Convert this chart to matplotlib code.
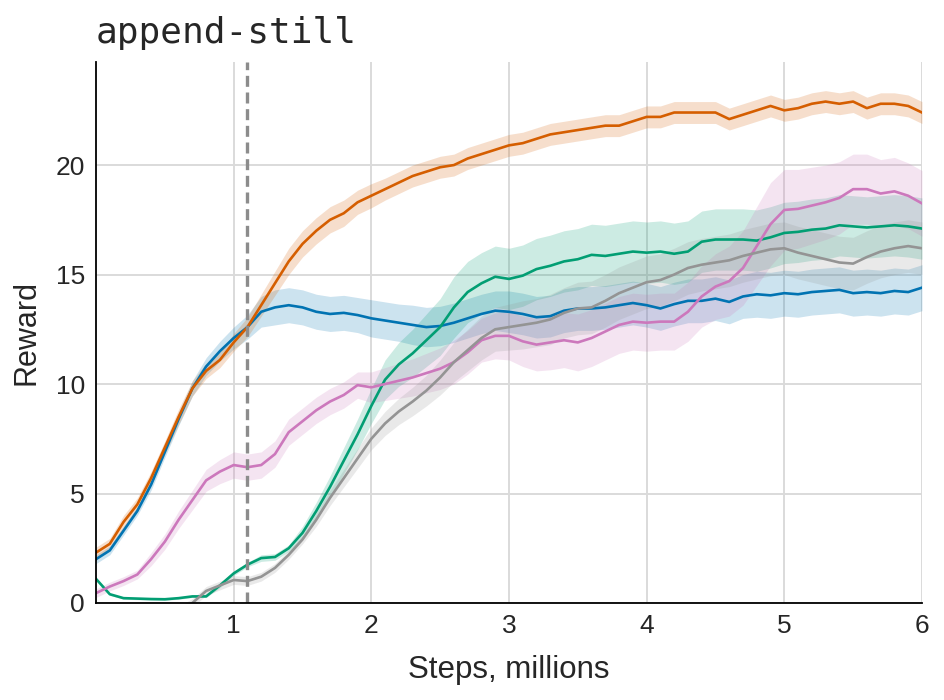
import numpy as np
import matplotlib
matplotlib.use("Agg")
import matplotlib.pyplot as plt

# steps in millions, every 0.1M
steps = np.round(np.arange(0, 61) * 0.1, 1)
grey_steps = steps[6:]

orange = [2.3, 2.7, 3.7, 4.5, 5.7, 7.1, 8.5, 9.8, 10.6, 11.1,
          11.9, 12.6, 13.6, 14.6, 15.6, 16.4, 17.0, 17.5, 17.8, 18.3,
          18.6, 18.9, 19.2, 19.5, 19.7, 19.9, 20.0, 20.3, 20.5, 20.7,
          20.9, 21.0, 21.2, 21.4, 21.5, 21.6, 21.7, 21.8, 21.8, 22.0,
          22.2, 22.2, 22.4, 22.4, 22.4, 22.4, 22.1, 22.3, 22.5, 22.7,
          22.5, 22.6, 22.8, 22.9, 22.8, 22.9, 22.6, 22.8, 22.8, 22.7,
          22.4]
orange_err = [0.25, 0.25, 0.3, 0.3, 0.3, 0.3, 0.35, 0.35, 0.35, 0.35,
              0.4, 0.45, 0.5, 0.55, 0.6, 0.6, 0.6, 0.6, 0.6, 0.55,
              0.55, 0.5, 0.5, 0.5, 0.5, 0.5, 0.5, 0.5, 0.5, 0.5,
              0.5, 0.5, 0.5, 0.5, 0.5, 0.5, 0.5, 0.5, 0.5, 0.5,
              0.5, 0.5, 0.5, 0.5, 0.5, 0.5, 0.5, 0.5, 0.5, 0.5,
              0.5, 0.5, 0.5, 0.5, 0.5, 0.5, 0.5, 0.5, 0.5, 0.5,
              0.5]

blue = [2.0, 2.4, 3.3, 4.2, 5.4, 6.9, 8.4, 9.8, 10.8, 11.5,
        12.1, 12.6, 13.3, 13.5, 13.6, 13.5, 13.3, 13.2, 13.25, 13.15,
        13.0, 12.9, 12.8, 12.7, 12.6, 12.65, 12.8, 13.0, 13.2, 13.35,
        13.3, 13.2, 13.05, 13.1, 13.35, 13.45, 13.45, 13.5, 13.6, 13.7,
        13.6, 13.45, 13.65, 13.8, 13.8, 13.9, 13.75, 14.0, 14.1, 14.05,
        14.15, 14.1, 14.2, 14.25, 14.3, 14.15, 14.2, 14.15, 14.25, 14.2,
        14.4]
blue_err = [0.2, 0.2, 0.2, 0.2, 0.25, 0.25, 0.3, 0.35, 0.4, 0.45,
            0.5, 0.55, 0.7, 0.8, 0.8, 0.8, 0.8, 0.8, 0.8, 0.8,
            0.85, 0.85, 0.85, 0.9, 0.9, 0.9, 0.9, 0.9, 0.9, 0.9,
            0.95, 0.95, 0.95, 0.95, 1.0, 1.0, 1.0, 1.0, 1.0, 1.0,
            1.0, 1.0, 1.0, 1.0, 1.0, 1.0, 1.0, 1.0, 1.05, 1.05,
            1.05, 1.05, 1.05, 1.05, 1.05, 1.05, 1.05, 1.05, 1.05, 1.05,
            1.05]

green = [1.1, 0.4, 0.22, 0.2, 0.18, 0.17, 0.22, 0.3, 0.3, 0.8,
         1.35, 1.75, 2.05, 2.1, 2.5, 3.2, 4.2, 5.3, 6.5, 7.7,
         9.0, 10.2, 10.9, 11.4, 12.0, 12.6, 13.5, 14.2, 14.6, 14.9,
         14.8, 14.95, 15.25, 15.4, 15.6, 15.7, 15.9, 15.85, 15.95, 16.05,
         16.0, 16.05, 15.95, 16.05, 16.5, 16.6, 16.6, 16.6, 16.55, 16.7,
         16.9, 16.95, 17.05, 17.1, 17.25, 17.2, 17.15, 17.2, 17.25, 17.2,
         17.1]
green_err = [0.05, 0.05, 0.05, 0.05, 0.05, 0.05, 0.05, 0.05, 0.05, 0.1,
             0.1, 0.1, 0.15, 0.15, 0.15, 0.3, 0.4, 0.5, 0.6, 0.7,
             0.8, 0.9, 1.0, 1.1, 1.2, 1.3, 1.4, 1.4, 1.4, 1.4,
             1.4, 1.4, 1.4, 1.4, 1.4, 1.4, 1.4, 1.4, 1.4, 1.4,
             1.4, 1.4, 1.4, 1.4, 1.4, 1.4, 1.4, 1.4, 1.4, 1.4,
             1.4, 1.4, 1.4, 1.4, 1.4, 1.4, 1.4, 1.4, 1.4, 1.4,
             1.4]

pink = [0.45, 0.75, 1.0, 1.3, 2.0, 2.8, 3.8, 4.7, 5.6, 6.0,
        6.3, 6.2, 6.3, 6.8, 7.8, 8.3, 8.8, 9.2, 9.5, 9.95,
        9.85, 10.0, 10.15, 10.3, 10.5, 10.7, 11.0, 11.45, 12.0, 12.2,
        12.2, 11.95, 11.8, 11.9, 12.0, 11.9, 12.1, 12.4, 12.7, 12.85,
        12.8, 12.85, 12.85, 13.3, 14.0, 14.45, 14.7, 15.3, 16.3, 17.3,
        17.95, 18.0, 18.15, 18.3, 18.5, 18.9, 18.9, 18.7, 18.8, 18.6,
        18.25]
pink_err = [0.2, 0.2, 0.2, 0.2, 0.3, 0.35, 0.4, 0.45, 0.5, 0.55,
            0.6, 0.6, 0.6, 0.6, 0.6, 0.6, 0.6, 0.6, 0.6, 0.6,
            0.7, 0.75, 0.8, 0.85, 0.9, 0.95, 1.0, 1.0, 1.0, 1.05,
            1.1, 1.15, 1.2, 1.25, 1.25, 1.3, 1.3, 1.3, 1.3, 1.3,
            1.3, 1.3, 1.3, 1.35, 1.4, 1.5, 1.6, 1.7, 1.8, 1.9,
            1.85, 1.8, 1.75, 1.7, 1.65, 1.6, 1.6, 1.55, 1.55, 1.5,
            1.5]

# grey run only enters the visible range at ~0.7M
grey = [-0.35, 0.0, 0.55, 0.8,
        1.05, 1.0, 1.2, 1.6, 2.2, 2.9, 3.8, 4.8, 5.7, 6.6,
        7.5, 8.2, 8.75, 9.2, 9.7, 10.3, 11.0, 11.55, 12.1, 12.5,
        12.6, 12.7, 12.8, 12.95, 13.25, 13.45, 13.5, 13.8, 14.15, 14.4,
        14.65, 14.75, 15.0, 15.3, 15.45, 15.55, 15.65, 15.85, 16.0, 16.15,
        16.2, 16.0, 15.85, 15.7, 15.55, 15.5, 15.8, 16.05, 16.2, 16.3,
        16.2]
grey_err = [0.2, 0.2, 0.2, 0.2,
            0.2, 0.2, 0.2, 0.2, 0.2, 0.2, 0.3, 0.35, 0.4, 0.45,
            0.5, 0.55, 0.6, 0.65, 0.7, 0.8, 0.9, 0.95, 1.0, 1.0,
            1.05, 1.1, 1.1, 1.15, 1.15, 1.2, 1.2, 1.2, 1.2, 1.2,
            1.2, 1.2, 1.2, 1.2, 1.2, 1.2, 1.2, 1.2, 1.2, 1.2,
            1.2, 1.2, 1.2, 1.2, 1.2, 1.2, 1.2, 1.2, 1.2, 1.2,
            1.2]

switch_step = 1.1

runs = [
    (steps, blue, blue_err, "#0173b2"),
    (steps, orange, orange_err, "#d55e00"),
    (steps, green, green_err, "#029e73"),
    (steps, pink, pink_err, "#cc78bc"),
    (grey_steps, grey, grey_err, "#949494"),
]

plt.rcParams['font.family'] = ['Liberation Sans', 'DejaVu Sans']
plt.rcParams['text.color'] = '#262626'
plt.rcParams['axes.labelcolor'] = '#262626'
plt.rcParams['xtick.color'] = '#262626'
plt.rcParams['ytick.color'] = '#262626'

fig = plt.figure(figsize=(9.45, 7.0), dpi=100)
ax = fig.add_axes([0.1016, 0.1386, 0.874, 0.7726])

for x, m, e, c in runs:
    m = np.array(m)
    e = np.array(e)
    ax.fill_between(x, m - e, m + e, color=c, alpha=0.2, lw=0)
for x, m, e, c in runs:
    ax.plot(x, m, color=c, lw=1.9)

ax.axvline(switch_step, color="#8c8c8c", lw=2.4, ls=(0, (3.3, 1.7)))

ax.set_xlim(0, 6)
ax.set_ylim(0, 24.7)
ax.set_xticks([1, 2, 3, 4, 5, 6])
ax.set_yticks([0, 5, 10, 15, 20])
ax.grid(True, color="#dadada", lw=1.4)
ax.set_axisbelow(True)
ax.tick_params(length=0, labelsize=19, pad=8)
for s in ["top", "right"]:
    ax.spines[s].set_visible(False)
for s in ["left", "bottom"]:
    ax.spines[s].set_color("black")
    ax.spines[s].set_linewidth(1.3)

ax.set_xlabel("Steps, millions", fontsize=22.5, labelpad=12)
ax.set_ylabel("Reward", fontsize=22, labelpad=10)
ax.set_title("append-still", fontsize=26, family="DejaVu Sans Mono", loc="left", pad=14)

fig.savefig("out.png", dpi=100)
